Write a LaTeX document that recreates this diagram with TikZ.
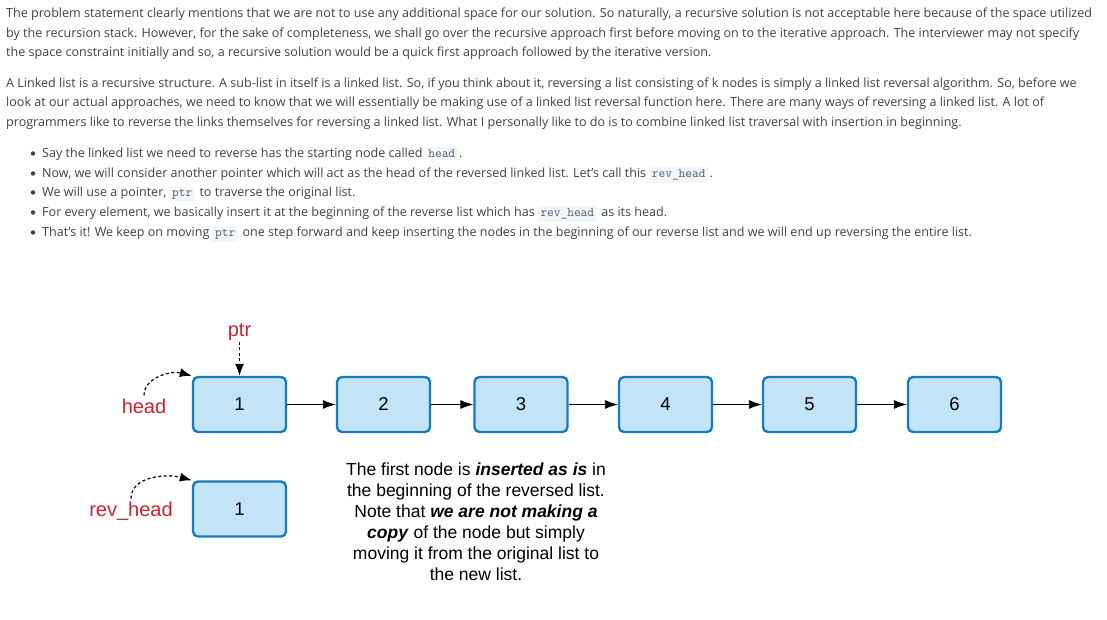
\documentclass[tikz,border=0pt]{standalone}
\usepackage{fontspec}
\setmainfont{Open Sans}
\newfontfamily\diagfont{Liberation Sans}
\usetikzlibrary{positioning,arrows.meta}
\definecolor{bodygray}{RGB}{66,66,66}
\definecolor{codebg}{RGB}{243,246,249}
\definecolor{codefg}{RGB}{72,92,112}
\definecolor{boxfill}{RGB}{194,228,246}
\definecolor{boxline}{RGB}{22,124,190}
\definecolor{ptrred}{RGB}{206,36,44}
\newcommand{\code}[1]{{\setlength{\fboxsep}{2.5pt}\colorbox{codebg}{\fontsize{13}{13}\ttfamily\color{codefg}#1}}\hspace{1.5pt}}
\tikzset{
  txt/.style={anchor=base west, inner sep=0pt, text=bodygray, font=\fontsize{12.55}{15}\selectfont},
  bul/.style={circle, fill=bodygray, inner sep=0pt, minimum size=4.5pt},
  llnode/.style={draw=boxline, fill=boxfill, line width=2.4pt, rounded corners=5pt,
    minimum width=93pt, minimum height=55pt, font=\diagfont\fontsize{18.5}{18.5}\selectfont},
  ptrlabel/.style={text=ptrred, inner sep=1pt, font=\diagfont\fontsize{20}{20}\selectfont},
  next/.style={-{Latex[length=13pt,width=9pt]}, line width=0.9pt},
  point/.style={dash pattern=on 3pt off 2.5pt, -{Latex[length=12pt,width=9pt]}, line width=1.2pt},
}
\begin{document}
\begin{tikzpicture}[x=1pt, y=-1pt]
\fill[white] (0,0) rectangle (1107,620);
\useasboundingbox (0,0) rectangle (1107,620);

\node[txt] (p1a) at (6,17.5) {The problem statement clearly mentions that we are not to use any additional space for our solution. So naturally, a recursive solution is not acceptable here because of the space utilized};
\node[txt] (p1b) at (6,37.5) {by the recursion stack. However, for the sake of completeness, we shall go over the recursive approach first before moving on to the iterative approach. The interviewer may not specify};
\node[txt] (p1c) at (6,56.5) {the space constraint initially and so, a recursive solution would be a quick first approach followed by the iterative version.};

\node[txt] (p2a) at (6,87.5) {A Linked list is a recursive structure. A sub-list in itself is a linked list. So, if you think about it, reversing a list consisting of k nodes is simply a linked list reversal algorithm. So, before we};
\node[txt] (p2b) at (6,106.5) {look at our actual approaches, we need to know that we will essentially be making use of a linked list reversal function here. There are many ways of reversing a linked list. A lot of};
\node[txt] (p2c) at (6,126.5) {programmers like to reverse the links themselves for reversing a linked list. What I personally like to do is to combine linked list traversal with insertion in beginning.};

\foreach \y/\t [count=\i] in {157.5/{Say the linked list we need to reverse has the starting node called \code{head}.},
  177.5/{Now, we will consider another pointer which will act as the head of the reversed linked list. Let's call this \code{rev\_head}.},
  196.5/{We will use a pointer, \code{ptr} to traverse the original list.},
  216.5/{For every element, we basically insert it at the beginning of the reverse list which has \code{rev\_head} as its head.},
  236.5/{That's it! We keep on moving \code{ptr} one step forward and keep inserting the nodes in the beginning of our reverse list and we will end up reversing the entire list.}}
{
  \node[bul] (b\i) at (33,\y-4) {};
  \node[txt] (l\i) at (42,\y) {\t};
}

\foreach \x/\n in {239.5/1, 383.5/2, 521/3, 665.5/4, 809.5/5, 954.5/6}
  \node[llnode] (n\n) at (\x,404.5) {\n};
\foreach \a/\b in {1/2, 2/3, 3/4, 4/5, 5/6}
  \draw[next] (n\a) -- (n\b);

\node[llnode] (r1) at (239.5,509) {1};

\node[ptrlabel] (ptr) at (239.5,332) {ptr};
\node[ptrlabel] (hd) at (144,406) {head};
\node[ptrlabel] (rhd) at (131,511) {rev\_head};

\draw[point] (ptr) -- (n1);
\draw[point, shorten <=2pt] (hd.north) to[out=90, in=165] (n1.north west);
\draw[point, shorten <=2pt] (rhd.north) to[out=90, in=165] (r1.north west);

\node[align=center, font=\diagfont\fontsize{17.5}{21}\selectfont] (note) at (476,522) {The first node is \textbf{\textit{inserted as is}} in\\
the beginning of the reversed list.\\
Note that \textbf{\textit{we are not making a}}\\
\textbf{\textit{copy}} of the node but simply\\
moving it from the original list to\\
the new list.};
\end{tikzpicture}
\end{document}
